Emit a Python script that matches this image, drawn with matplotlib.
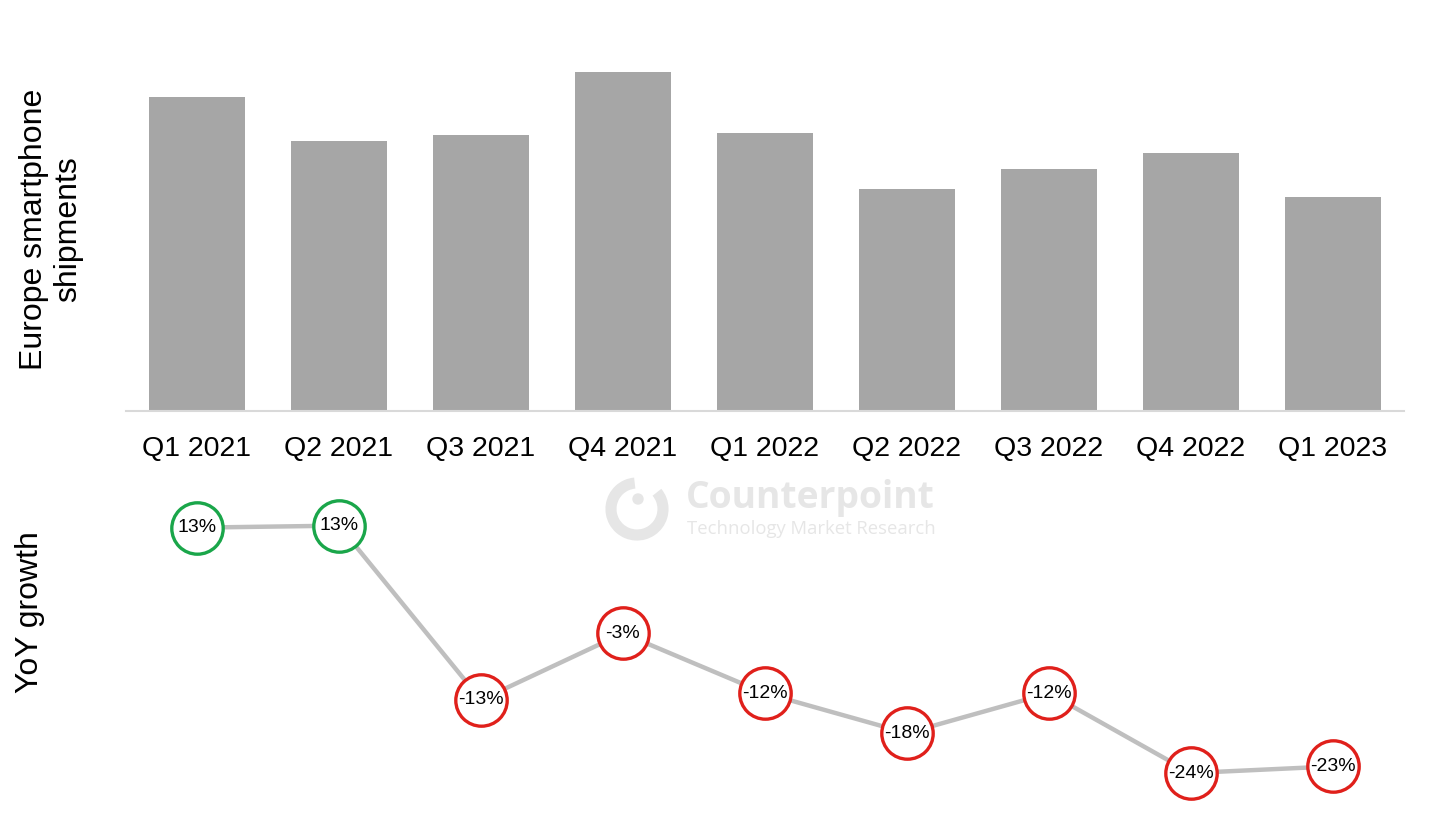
import matplotlib.pyplot as plt
from matplotlib.patches import Circle, Arc

plt.rcParams['font.family'] = ['Liberation Sans', 'DejaVu Sans']

quarters = ["Q1 2021", "Q2 2021", "Q3 2021", "Q4 2021", "Q1 2022",
            "Q2 2022", "Q3 2022", "Q4 2022", "Q1 2023"]
shipments = [50.8, 43.7, 44.6, 54.8, 45.0, 35.9, 39.1, 41.7, 34.6]  # millions, estimated
yoy = [12.9, 13.2, -13, -3, -12, -18, -12, -24, -23]

fig = plt.figure(figsize=(14.4, 8.19), dpi=100)
W, H = 1440, 819

def px_axes(x0, y0, x1, y1):
    return fig.add_axes([x0 / W, 1 - y1 / H, (x1 - x0) / W, (y1 - y0) / H])

# bars
ax = px_axes(126, 60, 1404, 411)
x = range(len(quarters))
ax.bar(x, shipments, width=0.67, color="#a6a6a6")
ax.set_xlim(-0.5, 8.5)
ax.set_ylim(0, 56.8)
ax.set_xticks(list(x))
ax.set_xticklabels(quarters, fontsize=20.5)
ax.tick_params(axis="x", length=0, pad=18)
ax.set_yticks([])
for s in ["top", "right", "left"]:
    ax.spines[s].set_visible(False)
ax.spines["bottom"].set_color("#d9d9d9")
ax.spines["bottom"].set_linewidth(1.5)

# yoy line
ax2 = px_axes(126, 490, 1404, 810)
ax2.set_xlim(-0.5, 8.5)
ax2.set_ylim(-29.56, 18.56)
ax2.plot(list(x), yoy, color="#bfbfbf", lw=3.2, zorder=1)
for i, v in enumerate(yoy):
    edge = "#1aa64a" if v > 0 else "#e0201b"
    ax2.plot(i, v, "o", ms=37, mfc="white", mec=edge, mew=2.4, zorder=2)
    ax2.text(i, v, f"{v:.0f}%", ha="center", va="center", fontsize=14, zorder=3)
ax2.axis("off")

# axis titles
fig.text(51 / W, 1 - 229 / H, "Europe smartphone\nshipments", rotation=90,
         ha="center", va="center", fontsize=23, linespacing=1.15)
fig.text(30 / W, 1 - 612 / H, "YoY growth", rotation=90,
         ha="center", va="center", fontsize=23)

# watermark
wm = "#e6e6e6"
inch = fig.dpi_scale_trans
fig.add_artist(Arc((6.37, 8.19 - 5.09), 0.52, 0.52, theta1=95, theta2=400,
                   transform=inch, color=wm, lw=8))
fig.add_artist(Circle((6.38, 8.19 - 4.99), 0.05, transform=inch, color=wm))
fig.text(686 / W, 1 - 498 / H, "Counterpoint", fontsize=26.8, fontweight="bold",
         family=["Open Sans", "DejaVu Sans"], color=wm, va="center", ha="left")
fig.text(687 / W, 1 - 529 / H, "Technology Market Research", fontsize=13.3,
         family=["Open Sans", "DejaVu Sans"], color=wm, va="center", ha="left")

fig.savefig("out.png", dpi=100)
